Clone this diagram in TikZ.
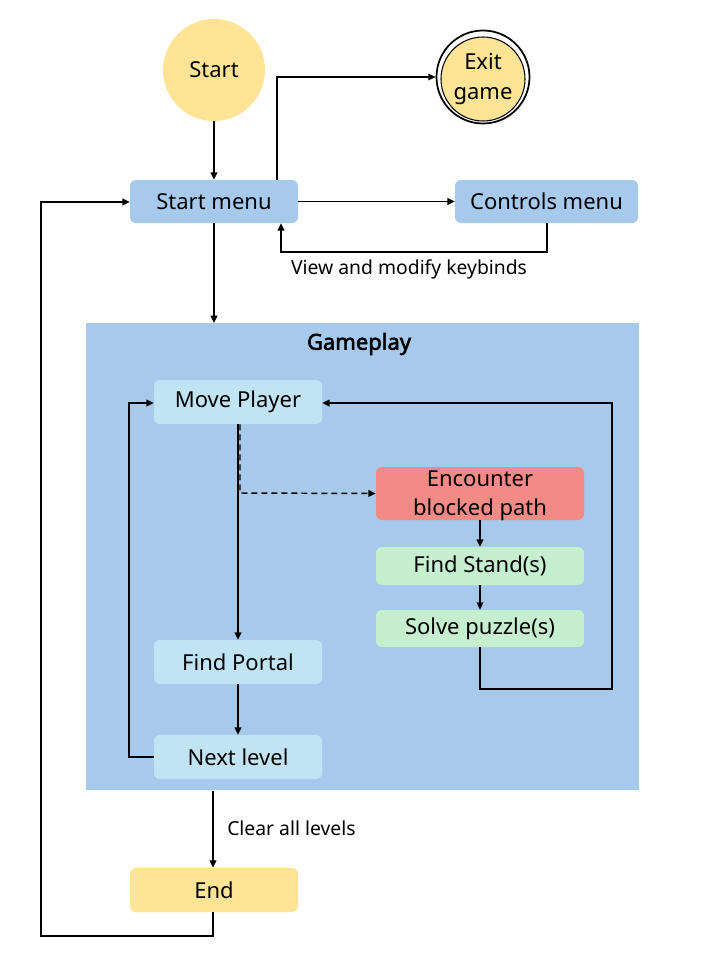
\documentclass[tikz,border=0pt]{standalone}
\usepackage{fontspec}
\setmainfont{Noto Sans}
\newfontfamily\titlefont{Noto Sans}[FakeBold=2.5]
\usetikzlibrary{arrows.meta}
\definecolor{yel}{HTML}{FFE495}
\definecolor{blu}{HTML}{A6C9EC}
\definecolor{lblu}{HTML}{C1E4F5}
\definecolor{redb}{HTML}{F28B86}
\definecolor{grn}{HTML}{C5EFCE}
\tikzset{
  box/.style={rounded corners=4.5pt, inner sep=0pt, align=center, font=\fontsize{16.5}{21.5}\selectfont},
  conn/.style={line width=1.1pt, -{Triangle[length=5.5pt,width=5pt]}},
  lbl/.style={font=\fontsize{14.5}{17}\selectfont, inner sep=0pt}
}
\begin{document}
\begin{tikzpicture}[x=0.75pt,y=-0.75pt]
\useasboundingbox[fill=white] (0,0) rectangle (720,970);
% gameplay region
\node[fill=blu, minimum width=553*0.75pt, minimum height=467*0.75pt, inner sep=0pt, anchor=north west] (game) at (86,323) {};
\node[font=\titlefont\fontsize{16.5}{19}\selectfont, inner sep=0pt] (gtitle) at (359,344) {Gameplay};
% top
\node[circle, fill=yel, minimum size=102*0.75pt, inner sep=0pt, font=\fontsize{16.5}{21.5}\selectfont] (start) at (214,70) {Start};
\node[circle, fill=white, draw=black, line width=1.3pt, minimum size=93*0.75pt, inner sep=0pt] (exitout) at (483,77) {};
\node[circle, fill=yel, draw=black, line width=0.8pt, minimum size=84*0.75pt, inner sep=0pt, align=center, font=\fontsize{16.5}{22.5}\selectfont] (exit) at (483,79) {Exit\\game};
\node[box, fill=blu, minimum width=168*0.75pt, minimum height=43*0.75pt] (smenu) at (214,201.5) {Start menu};
\node[box, fill=blu, minimum width=183*0.75pt, minimum height=43*0.75pt] (cmenu) at (546.5,201.5) {Controls menu};
% gameplay nodes
\node[box, fill=lblu, minimum width=168*0.75pt, minimum height=44*0.75pt] (move) at (238,402) {Move Player};
\node[box, fill=redb, minimum width=208*0.75pt, minimum height=53*0.75pt] (enc) at (480,493.5) {};
\node[box, inner sep=0pt] (enctext) at (480,496) {Encounter\\blocked path};
\node[box, fill=grn, minimum width=208*0.75pt, minimum height=38*0.75pt] (stand) at (480,566) {Find Stand(s)};
\node[box, fill=grn, minimum width=208*0.75pt, minimum height=37*0.75pt] (solve) at (480,628.5) {Solve puzzle(s)};
\node[box, fill=lblu, minimum width=168*0.75pt, minimum height=44*0.75pt] (portal) at (238,662) {Find Portal};
\node[box, fill=lblu, minimum width=168*0.75pt, minimum height=44*0.75pt] (next) at (238,757) {Next level};
\node[box, fill=yel, minimum width=168*0.75pt, minimum height=44*0.75pt] (endn) at (214,890) {End};
% coordinates
\coordinate (c1) at (277,77);
\coordinate (c2) at (547,252);
\coordinate (c3) at (281,252);
\coordinate (c4) at (240,493);
\coordinate (c5) at (480,689);
\coordinate (c6) at (612,689);
\coordinate (c7) at (612,403);
\coordinate (c8) at (129,757);
\coordinate (c9) at (129,403);
\coordinate (c10) at (213,936);
\coordinate (c11) at (41,936);
\coordinate (c12) at (41,202);
% connectors
\draw[conn] (start) -- (smenu);
\draw[conn] (smenu.north -| c1) |- (exitout.west);
\draw[conn] (smenu.east) -- (cmenu.west);
\draw[conn] (cmenu.south -| c2) -- (c2) -- (c3) -- (smenu.south -| c3);
\node[lbl] (kb) at (409,269) {View and modify keybinds};
\draw[conn] (smenu.south) -- (game.north -| smenu.south);
\draw[conn] (move.south) -- (portal.north);
\draw[conn, dashed, dash pattern=on 4.5pt off 3pt] (move.south -| c4) -- (c4) -- (enc.west);
\draw[conn] (enc.south) -- (stand.north);
\draw[conn] (stand.south) -- (solve.north);
\draw[conn] (solve.south) -- (c5) -- (c6) -- (c7) -- (move.east |- c7);
\draw[conn] (portal.south) -- (next.north);
\draw[conn] (next.west) -- (c8) -- (c9) -- (move.west |- c9);
\draw[conn] (game.south -| c10) -- (endn.north -| c10);
\node[lbl, anchor=west] (clr) at (227,828) {Clear all levels};
\draw[conn] (endn.south -| c10) -- (c10) -- (c11) -- (c12) -- (smenu.west |- c12);
\end{tikzpicture}
\end{document}
